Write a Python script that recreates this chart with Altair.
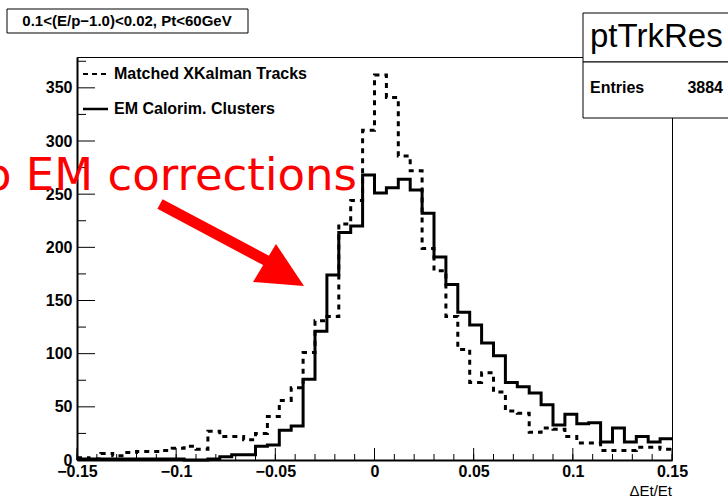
import altair as alt
import numpy as np
import pandas as pd

# ---------------- data ----------------
n_bins = 50
bin_edges = [round(v, 4) for v in np.linspace(-0.15, 0.15, n_bins + 1)]

matched_tracks = [2, 1, 6, 4, 7, 8, 8, 9, 11, 13,
                  10, 27, 22, 22, 19, 25, 41, 56, 68, 101,
                  131, 135, 222, 244, 310, 362, 341, 286, 272, 199,
                  178, 135, 104, 73, 82, 64, 46, 44, 26, 30,
                  29, 22, 16, 16, 9, 9, 9, 12, 12, 10]
em_clusters = [1, 1, 1, 1, 1, 1, 1, 1, 1, 0,
               0, 1, 3, 5, 5, 13, 14, 28, 32, 76,
               121, 174, 214, 220, 268, 251, 256, 264, 254, 232,
               191, 165, 139, 127, 110, 98, 73, 69, 63, 52,
               33, 43, 34, 35, 17, 30, 17, 22, 17, 20]

x_major_ticks = [-0.15, -0.1, -0.05, 0, 0.05, 0.1, 0.15]
x_minor_ticks = [round(-0.15 + 0.01 * i, 3) for i in range(31)]
y_major_ticks = [0, 50, 100, 150, 200, 250, 300, 350]
y_minor_ticks = [25, 75, 125, 175, 225, 275, 325, 375]

title_text = "0.1<(E/p\u22121.0)<0.02, Pt<60GeV"
stats_name = "ptTrkRes"
stats_entries = "3884"
legend_labels = ["Matched XKalman Tracks", "EM Calorim. Clusters"]
x_title = "\u0394Et/Et"
annotation = "No EM corrections"

# ---------------- layout ----------------
W, H = 595, 403
X_DOMAIN = [-0.15, 0.15]
Y_DOMAIN = [0, 379]
FONT = "Liberation Sans"

xs = alt.Scale(domain=X_DOMAIN, nice=False, zero=False)
ys = alt.Scale(domain=Y_DOMAIN, nice=False, zero=False)

xa = alt.Axis(
    values=x_major_ticks, format=".2~f", title=None, ticks=False, tickSize=0,
    grid=False, labelFont=FONT, labelFontWeight="bold", labelFontSize=16,
    labelColor="black", labelPadding=3, labelFlush=False, labelOverlap=False,
    domainColor="black", domainWidth=2)
ya = alt.Axis(
    values=y_major_ticks, format="d", title=None, ticks=False, tickSize=0,
    grid=False, labelFont=FONT, labelFontWeight="bold", labelFontSize=16,
    labelColor="black", labelPadding=5, labelFlush=False, labelOverlap=False,
    domainColor="black", domainWidth=2)


def step_frame(values):
    return pd.DataFrame({"x": bin_edges, "y": list(values) + [values[-1]]})


one = pd.DataFrame({"a": [0]})

dotted = alt.Chart(step_frame(matched_tracks)).mark_line(
    interpolate="step-after", color="black", strokeWidth=3, strokeDash=[5, 5]
).encode(
    x=alt.X("x:Q", scale=xs, axis=xa),
    y=alt.Y("y:Q", scale=ys, axis=ya),
)

solid = alt.Chart(step_frame(em_clusters)).mark_line(
    interpolate="step-after", color="black", strokeWidth=3
).encode(
    x=alt.X("x:Q", scale=xs, axis=xa),
    y=alt.Y("y:Q", scale=ys, axis=ya),
)

# inside ticks
xmaj = alt.Chart(pd.DataFrame({"x": x_major_ticks})).mark_rule(color="black", strokeWidth=1).encode(
    x=alt.X("x:Q", scale=xs, axis=xa), y=alt.value(H), y2=alt.value(H - 12))
xmin = alt.Chart(pd.DataFrame({"x": x_minor_ticks})).mark_rule(color="black", strokeWidth=1).encode(
    x=alt.X("x:Q", scale=xs, axis=xa), y=alt.value(H), y2=alt.value(H - 6))
ymaj = alt.Chart(pd.DataFrame({"y": y_major_ticks})).mark_rule(color="black", strokeWidth=1).encode(
    y=alt.Y("y:Q", scale=ys, axis=ya), x=alt.value(0), x2=alt.value(18))
ymin = alt.Chart(pd.DataFrame({"y": y_minor_ticks})).mark_rule(color="black", strokeWidth=1).encode(
    y=alt.Y("y:Q", scale=ys, axis=ya), x=alt.value(0), x2=alt.value(9))

# legend
leg_dot = alt.Chart(one).mark_rule(color="black", strokeWidth=2, strokeDash=[5, 4]).encode(
    x=alt.value(6), x2=alt.value(31), y=alt.value(17))
leg_sol = alt.Chart(one).mark_rule(color="black", strokeWidth=2.5).encode(
    x=alt.value(6), x2=alt.value(31), y=alt.value(52))
leg_t1 = alt.Chart(one).mark_text(align="left", baseline="middle", font=FONT, fontWeight="bold",
                                  fontSize=16, color="black").encode(
    x=alt.value(37), y=alt.value(17), text=alt.value(legend_labels[0]))
leg_t2 = alt.Chart(one).mark_text(align="left", baseline="middle", font=FONT, fontWeight="bold",
                                  fontSize=16, color="black").encode(
    x=alt.value(37), y=alt.value(52), text=alt.value(legend_labels[1]))

# x-axis title
xtitle = alt.Chart(one).mark_text(align="right", baseline="alphabetic", font=FONT,
                                  fontSize=15, color="black").encode(
    x=alt.value(W), y=alt.value(H + 36), text=alt.value(x_title))

# title box
tbox = alt.Chart(one).mark_rect(fill="white", stroke="black", strokeWidth=1).encode(
    x=alt.value(-70), x2=alt.value(171), y=alt.value(-48), y2=alt.value(-24))
ttext = alt.Chart(one).mark_text(align="center", baseline="middle", font=FONT, fontWeight="bold",
                                 fontSize=15, color="black").encode(
    x=alt.value(50), y=alt.value(-36), text=alt.value(title_text))

# stats box
sbox1 = alt.Chart(one).mark_rect(fill="white", stroke="black", strokeWidth=1).encode(
    x=alt.value(506), x2=alt.value(662), y=alt.value(-44), y2=alt.value(5))
sbox2 = alt.Chart(one).mark_rect(fill="white", stroke="black", strokeWidth=1).encode(
    x=alt.value(506), x2=alt.value(662), y=alt.value(5), y2=alt.value(61))
sname = alt.Chart(one).mark_text(align="left", baseline="alphabetic", font=FONT,
                                 fontSize=33, color="black").encode(
    x=alt.value(513), y=alt.value(-10), text=alt.value(stats_name))
sent = alt.Chart(one).mark_text(align="left", baseline="middle", font=FONT, fontWeight="bold",
                                fontSize=16, color="black").encode(
    x=alt.value(513), y=alt.value(31), text=alt.value("Entries"))
sval = alt.Chart(one).mark_text(align="right", baseline="middle", font=FONT, fontWeight="bold",
                                fontSize=16, color="black").encode(
    x=alt.value(646), y=alt.value(31), text=alt.value(stats_entries))

# red annotation
red_text = alt.Chart(one).mark_text(align="right", baseline="alphabetic", font="DejaVu Sans",
                                    fontSize=45, color="#ff0000").encode(
    x=alt.value(280), y=alt.value(133), text=alt.value(annotation))
shaft = alt.Chart(one).mark_rule(color="#ff0000", strokeWidth=11, strokeCap="butt").encode(
    x=alt.value(83), y=alt.value(147), x2=alt.value(192), y2=alt.value(205))
head = alt.Chart(one).mark_point(
    shape="M0,0 L-0.549,-0.824 L-1,-0.078 Z", size=10404, filled=True,
    color="#ff0000", opacity=1, strokeWidth=0
).encode(x=alt.value(227), y=alt.value(229))

chart = alt.layer(
    xmin, xmaj, ymin, ymaj, dotted, solid,
    leg_dot, leg_sol, leg_t1, leg_t2, xtitle,
    red_text, shaft, head,
    tbox, ttext, sbox1, sbox2, sname, sent, sval,
).properties(
    width=W, height=H,
    autosize=alt.AutoSizeParams(type="none"),
    padding={"left": 77, "top": 57, "right": 56, "bottom": 38},
    background="white",
).configure_view(stroke="black", strokeWidth=1)

chart.save("out.html", embed_options={"renderer": "svg", "actions": False})
